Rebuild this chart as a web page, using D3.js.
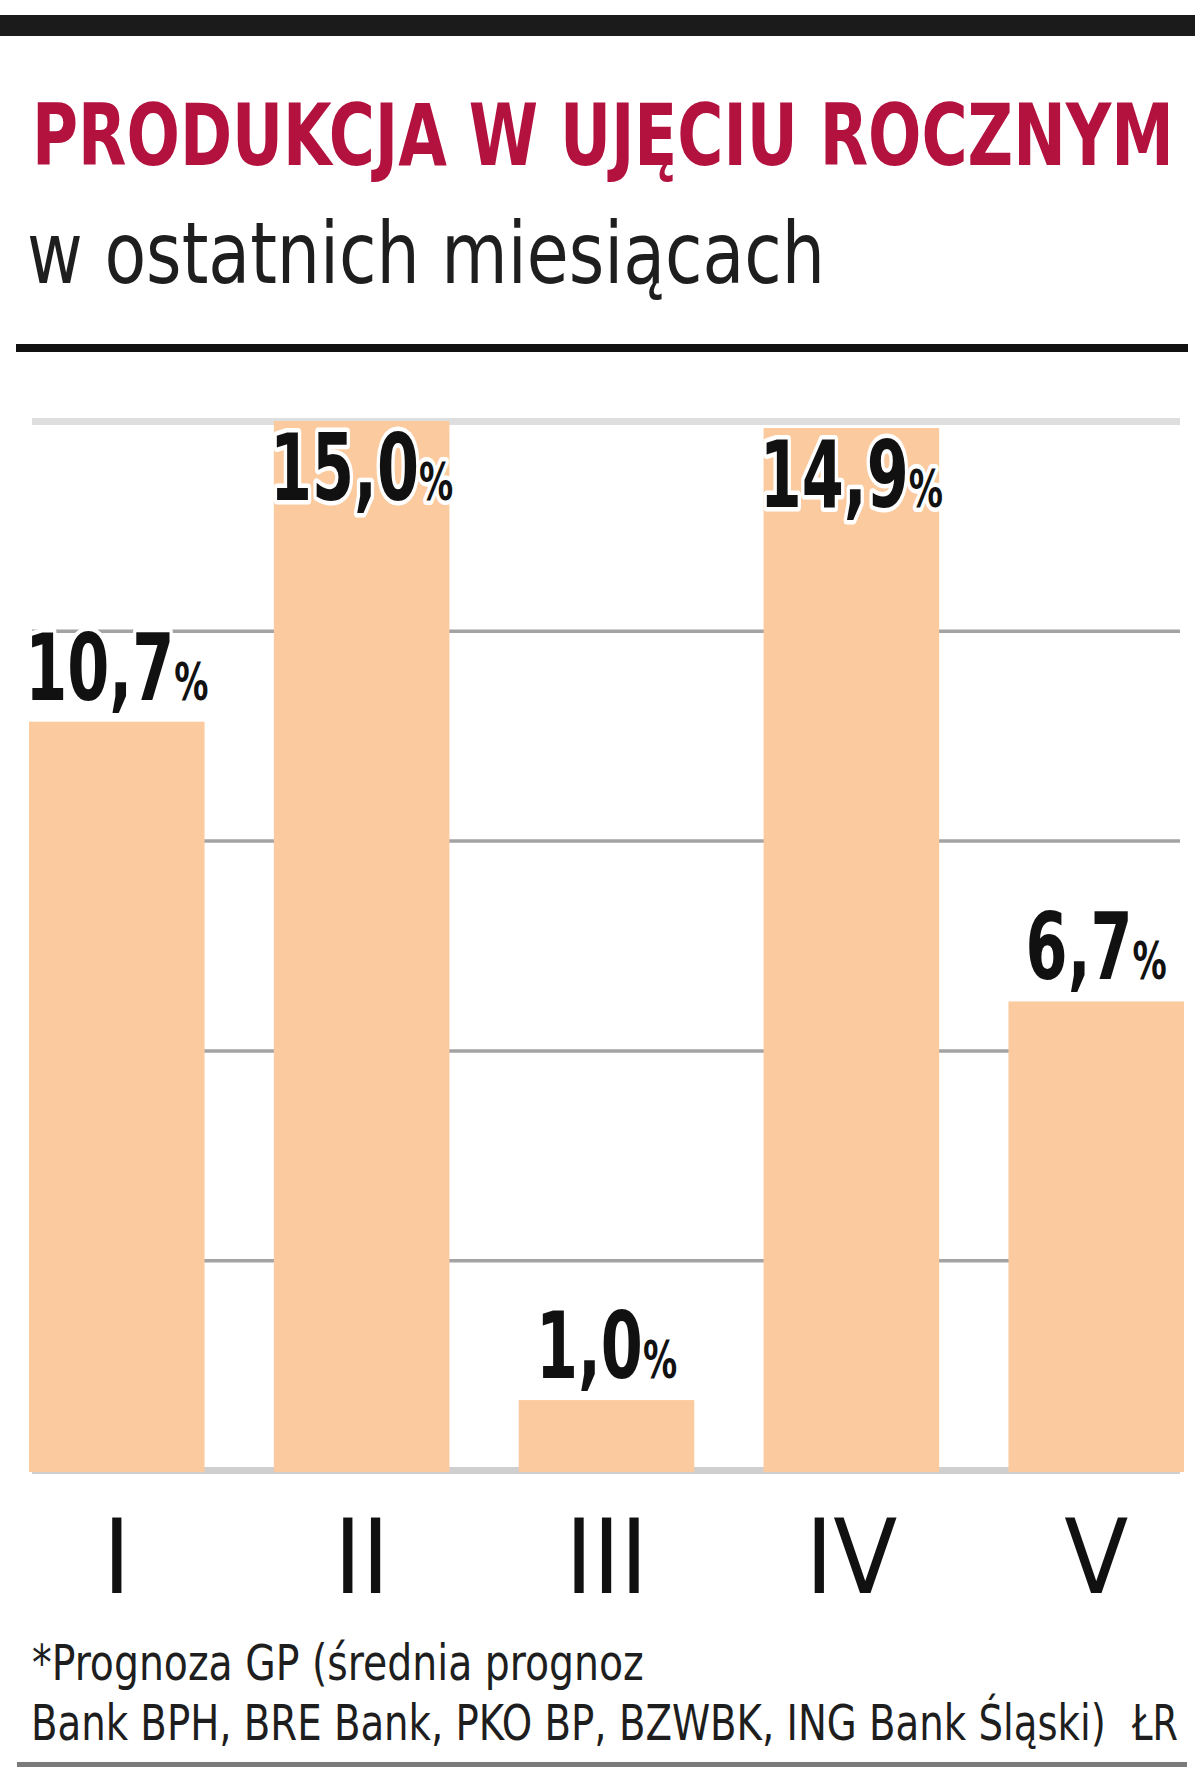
<!DOCTYPE html>
<html>
<head>
<meta charset="utf-8">
<script src="https://cdn.jsdelivr.net/npm/d3@7/dist/d3.min.js"></script>
<style>
  html, body { margin: 0; padding: 0; background: #fff; }
  svg { display: block; }
</style>
</head>
<body>
<script>
// ---- data ----
const categories = ["I", "II", "III", "IV", "V"];
const values = [10.7, 15.0, 1.0, 14.9, 6.7];
const gridTicks = [0, 3, 6, 9, 12, 15];
const titleText = "PRODUKCJA W UJĘCIU ROCZNYM";
const subtitleText = "w ostatnich miesiącach";
const noteLines = ["*Prognoza GP (średnia prognoz", "Bank BPH, BRE Bank, PKO BP, BZWBK, ING Bank Śląski)"];
const creditText = "ŁR";

// ---- setup ----
const W = 1200, H = 1787;
const NARROW = "'DejaVu Sans Condensed', 'DejaVu Sans', sans-serif";
const svg = d3.select("body").append("svg").attr("width", W).attr("height", H);

const plLocale = d3.formatLocale({decimal: ",", thousands: " ", grouping: [3], currency: ["", " zł"]});
const fmt = plLocale.format(".1f");

// squeeze a text horizontally so that it spans targetW starting at x
function fitText(sel, x, y, targetW) {
  sel.attr("x", 0).attr("y", 0);
  const w = sel.node().getComputedTextLength();
  const s = targetW / w;
  sel.attr("transform", `translate(${x},${y}) scale(${s},1)`);
  return sel;
}

// header rules
svg.append("rect").attr("x", 0).attr("y", 15).attr("width", 1195).attr("height", 21).attr("fill", "#1b1b1b");
svg.append("rect").attr("x", 16).attr("y", 344).attr("width", 1172).attr("height", 8).attr("fill", "#111");

// title & subtitle
fitText(svg.append("text")
  .attr("font-family", NARROW).attr("font-weight", "bold").attr("font-size", 86)
  .attr("fill", "#b3123f").text(titleText), 32, 165, 1142);
fitText(svg.append("text")
  .attr("font-family", NARROW).attr("font-size", 86)
  .attr("fill", "#1e1e1e").text(subtitleText), 27, 283, 798);

// scales
const y = d3.scaleLinear().domain([0, 15]).range([1470, 421]);
const x = d3.scaleBand().domain(categories).range([29, 1184]).paddingInner(0.283).paddingOuter(0);

// gridlines via axis
const gx0 = 32, gx1 = 1180;
const grid = svg.append("g").attr("transform", `translate(${gx0},0)`)
  .call(d3.axisLeft(y).tickValues(gridTicks).tickSize(-(gx1 - gx0)).tickFormat(""));
grid.select(".domain").remove();
grid.selectAll(".tick line")
  .attr("stroke", d => (d === 0 ? "#cfcfcf" : d === 15 ? "#dedede" : "#a3a3a3"))
  .attr("stroke-width", d => (d === 0 || d === 15 ? 7 : 3.5));

// bars
svg.append("g").selectAll("rect").data(values).join("rect")
  .attr("x", (d, i) => x(categories[i]))
  .attr("width", x.bandwidth())
  .attr("y", d => y(d))
  .attr("height", d => y(0) - y(d) + 2)
  .attr("fill", "#fbcb9f");

// value labels
const labelScale = 0.73;
const labels = svg.append("g").selectAll("text").data(values).join("text")
  .attr("transform", (d, i) => {
    const cx = x(categories[i]) + x.bandwidth() / 2;
    const ly = y(d) - 95 < 360 ? y(d) + 79 : y(d) - 22;
    return `translate(${cx},${ly}) scale(${labelScale},1)`;
  })
  .attr("text-anchor", "middle")
  .attr("font-family", NARROW).attr("font-weight", "bold")
  .attr("fill", "#111")
  .attr("stroke", "#fff").attr("stroke-width", 9).attr("stroke-linejoin", "round")
  .attr("paint-order", "stroke");
labels.append("tspan").attr("font-size", 92).text(d => fmt(d));
labels.append("tspan").attr("font-size", 52).text("%");

// category axis
const xa = svg.append("g").attr("transform", "translate(0,1593)")
  .call(d3.axisBottom(x).tickSize(0).tickPadding(0));
xa.select(".domain").remove();
xa.selectAll(".tick text")
  .attr("y", 0).attr("dy", null)
  .attr("font-family", NARROW).attr("font-size", 104)
  .attr("fill", "#111");

// footnote
fitText(svg.append("text")
  .attr("font-family", NARROW).attr("font-size", 50).attr("fill", "#1e1e1e")
  .text(noteLines[0]), 32, 1680, 612);
fitText(svg.append("text")
  .attr("font-family", NARROW).attr("font-size", 50).attr("fill", "#1e1e1e")
  .text(noteLines[1]), 31, 1740, 1075);
fitText(svg.append("text")
  .attr("font-family", NARROW).attr("font-size", 50).attr("fill", "#1e1e1e")
  .text(creditText), 1132, 1740, 46);

// bottom rule
svg.append("rect").attr("x", 17).attr("y", 1762).attr("width", 1170).attr("height", 5).attr("fill", "#7a7a7a");
</script>
</body>
</html>
